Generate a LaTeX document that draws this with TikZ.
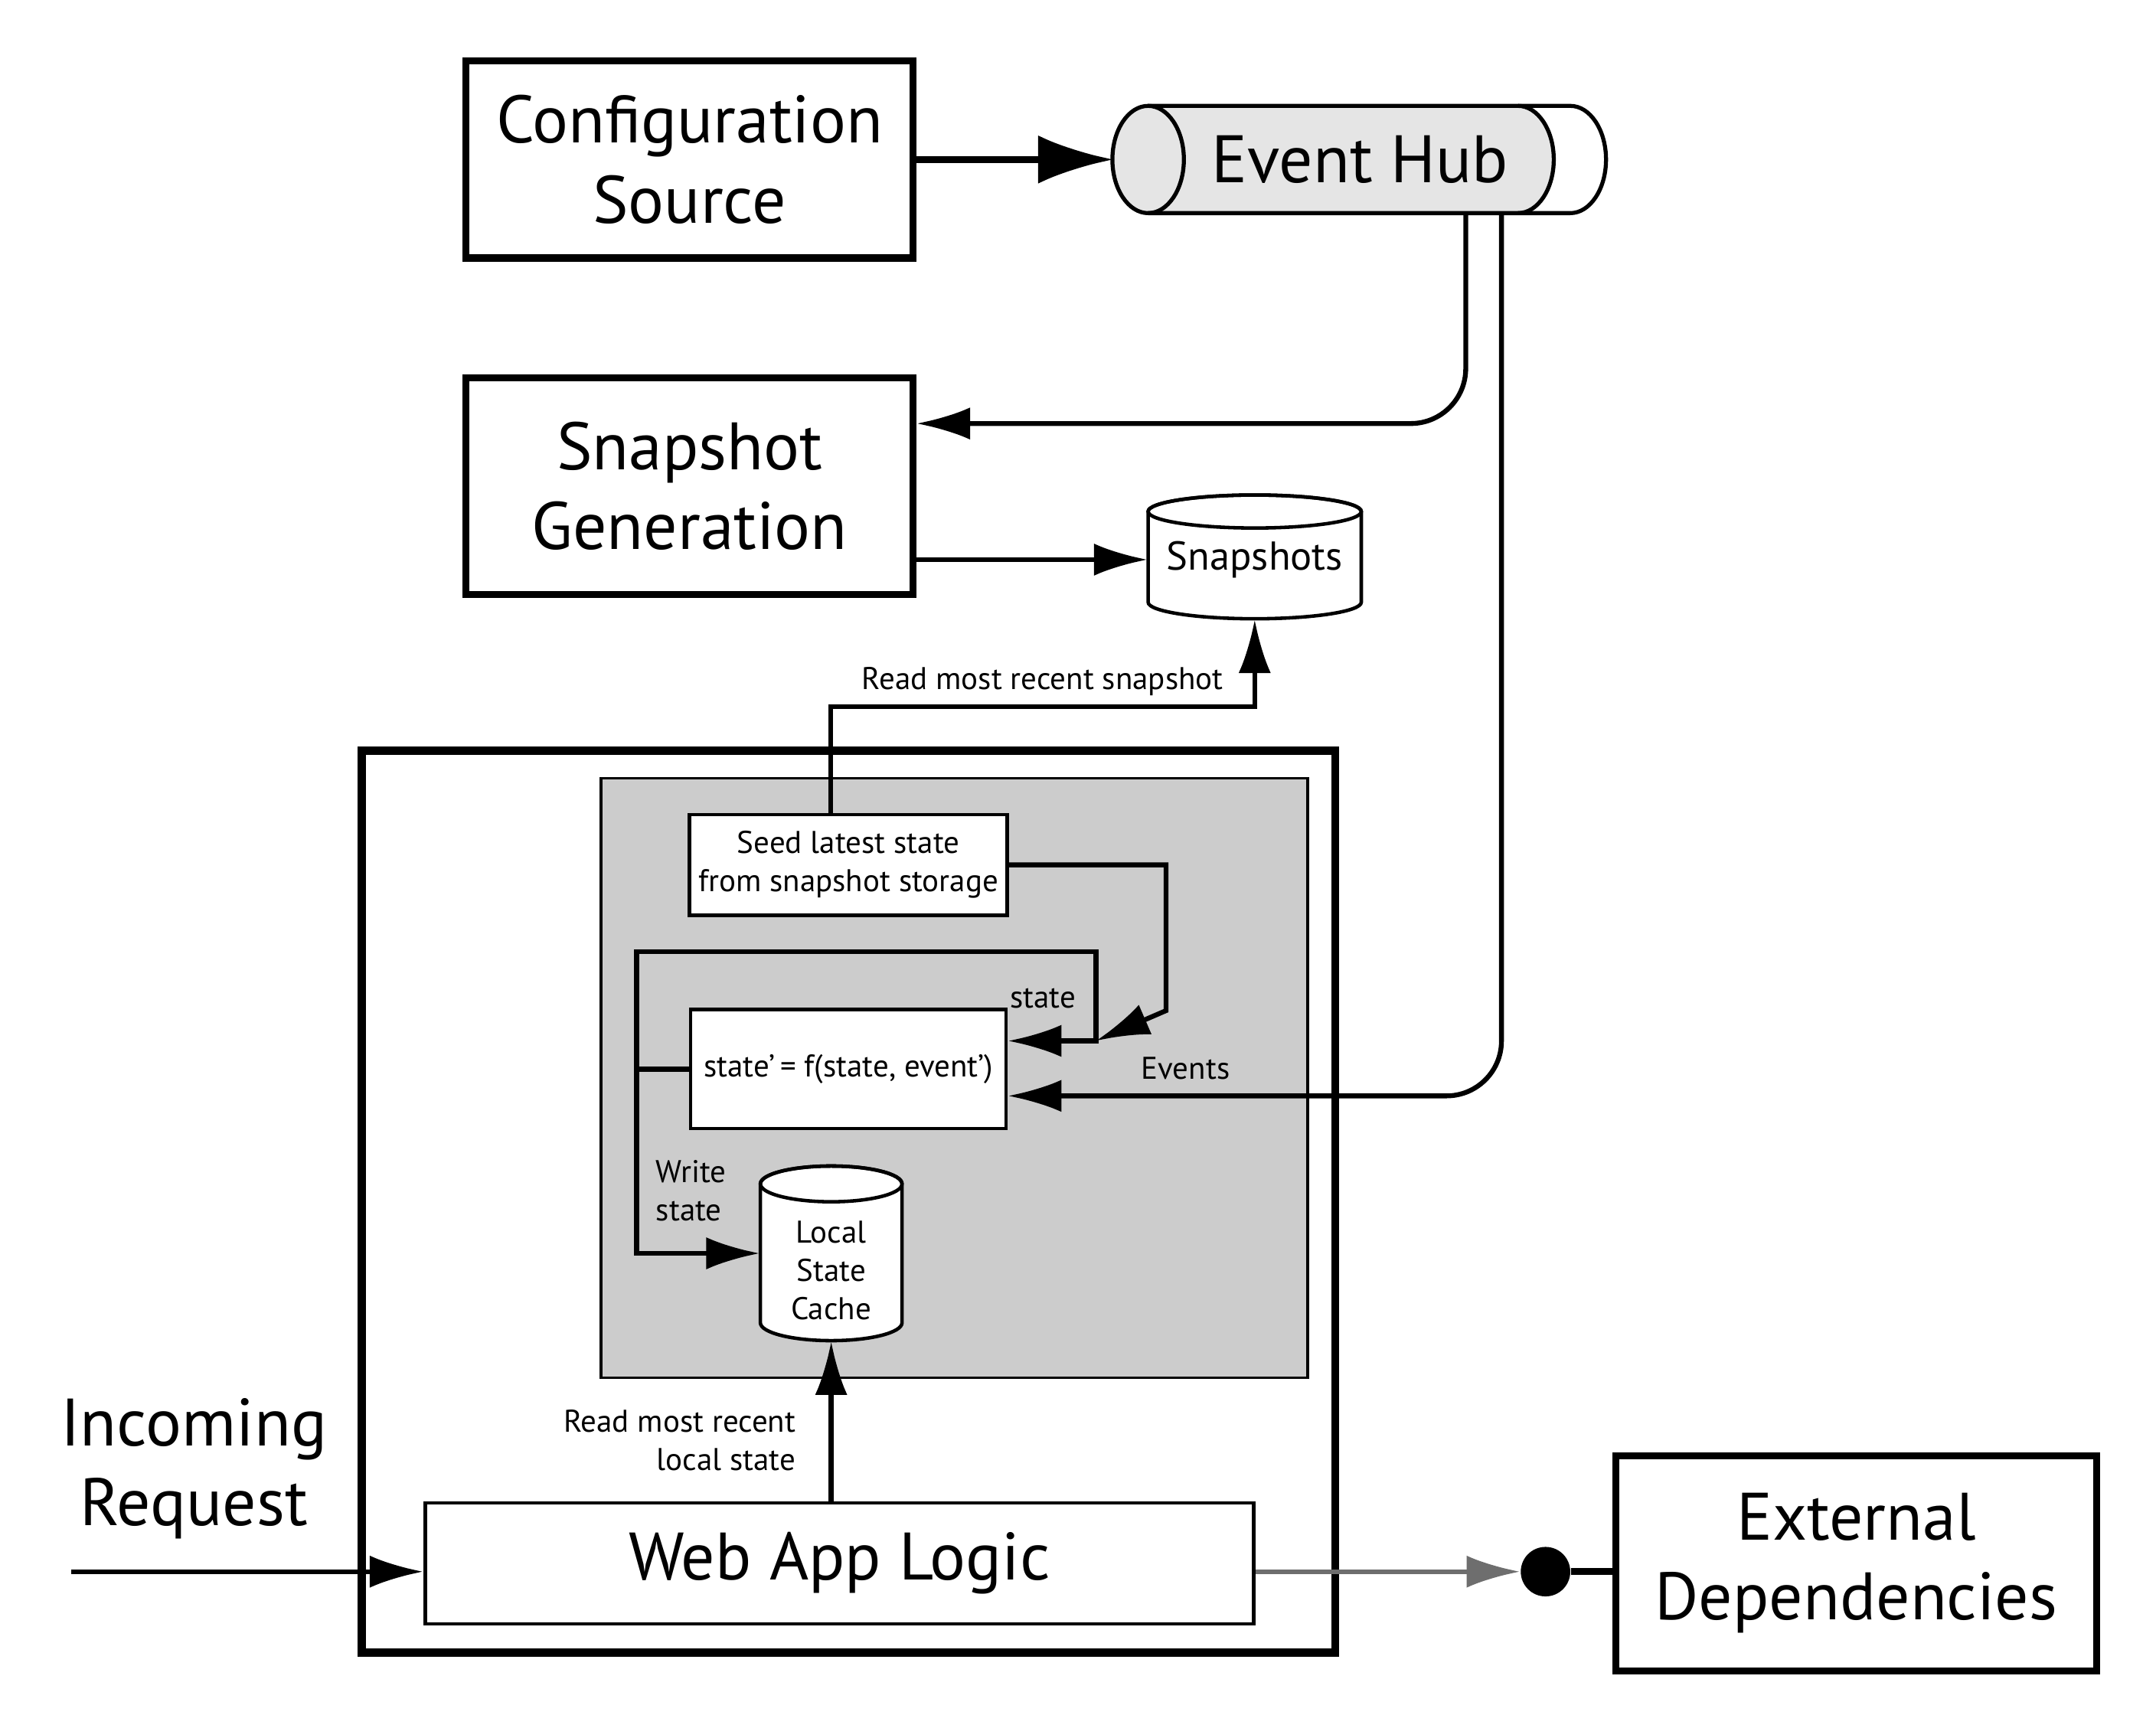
\documentclass[tikz,border=0pt]{standalone}
\usepackage{fontspec}
\setmainfont{PT Sans}
\usepackage{xcolor}
\usepackage{tikz}
\usetikzlibrary{arrows.meta,positioning}

\definecolor{hubgray}{RGB}{229,229,229}
\definecolor{boxgray}{RGB}{204,204,204}
\definecolor{linkgray}{RGB}{110,110,110}
\newcommand{\boxfont}{\fontsize{25}{29.7}\selectfont}
\newcommand{\dbfont}{\fontsize{15}{18}\selectfont}
\newcommand{\notefont}{\fontsize{11.7}{14.3}\selectfont}

\begin{document}
\begin{tikzpicture}[
  x=0.018cm, y=0.018cm,
  bigbox/.style={rectangle, draw, line width=2.6pt, align=center, font=\boxfont},
  smallbox/.style={rectangle, draw, line width=1.3pt, fill=white, align=center, font=\notefont},
  store/.style={rectangle, inner sep=0pt, align=center},
  lbl/.style={font=\notefont, align=center},
  arrow/.style={-{Latex[length=20pt,width=12pt]}, line width=1.8pt},
  bigarrow/.style={-{Latex[length=28pt,width=18pt]}, line width=2.6pt}
]

\fill[white] (0,0) rectangle (1568,-1247);

% web app container
\draw[line width=3pt] (263,-546) rectangle (971,-1202);
\draw[line width=1pt, fill=boxgray] (437,-566) rectangle (951,-1002);

% event hub tube
\fill[hubgray] (835,-77) -- (1104,-77) arc[start angle=90, end angle=-90, x radius=26, y radius=39]
  -- (835,-155) arc[start angle=270, end angle=90, x radius=26, y radius=39] -- cycle;
\draw[line width=1.5pt] (835,-77) -- (1142,-77) arc[start angle=90, end angle=-90, x radius=26, y radius=39] -- (835,-155);
\draw[line width=1.5pt] (1104,-77) arc[start angle=90, end angle=-90, x radius=26, y radius=39];
\draw[line width=1.5pt] (835,-116) ellipse[x radius=26, y radius=39];

% snapshot store
\draw[line width=1.3pt, fill=white] (835,-372) -- (835,-438) arc[start angle=180, end angle=360, x radius=77.5, y radius=12]
  -- (990,-372) arc[start angle=0, end angle=180, x radius=77.5, y radius=12] -- cycle;
\draw[line width=1.3pt] (912.5,-372) ellipse[x radius=77.5, y radius=12];

% local cache store
\draw[line width=1.3pt, fill=white] (553,-861) -- (553,-962) arc[start angle=180, end angle=360, x radius=51.5, y radius=13]
  -- (656,-861) arc[start angle=0, end angle=180, x radius=51.5, y radius=13] -- cycle;
\draw[line width=1.3pt] (604.5,-861) ellipse[x radius=51.5, y radius=13];

\node[bigbox, minimum width=5.85cm, minimum height=2.58cm] (config) at (501.5,-116) {Configuration\\Source};
\node[store, font=\boxfont, minimum width=6.444cm, minimum height=1.404cm] (hub) at (989,-116) {Event Hub};
\node[bigbox, minimum width=5.85cm, minimum height=2.84cm] (snapgen) at (501.5,-353.5) {Snapshot\\Generation};
\node[store, font=\dbfont, minimum width=2.79cm, minimum height=1.55cm] (snaps) at (912.5,-407) {Snapshots};

\node[smallbox, minimum width=4.13cm, minimum height=1.32cm] (seed) at (617,-629) {Seed latest state\\from snapshot storage};
\node[smallbox, minimum width=4.13cm, minimum height=1.56cm] (statef) at (617,-777.5) {state’\,= f(state, event’)};
\node[store, minimum width=1.854cm, minimum height=2.286cm] (cache) at (604.5,-911.5) {};
\node[lbl] (cachetext) at (604.5,-924) {Local\\State\\Cache};
\node[smallbox, font=\boxfont, minimum width=10.85cm, minimum height=1.58cm] (webapp) at (610.5,-1137) {Web App Logic};

\node[font=\boxfont, align=center] (inreq) at (141,-1068) {Incoming\\Request};
\node[bigbox, minimum width=6.3cm, minimum height=2.81cm] (extdep) at (1350,-1137) {External\\Dependencies};
\node[circle, fill=black, minimum size=0.648cm, inner sep=0pt] (dep) at (1124,-1143) {};

\coordinate (inpt) at (52,-1143);
\coordinate (merge) at (797,-757);

\draw[bigarrow] (config) -- (hub);
\draw[arrow, rounded corners=0.72cm] ([xshift=1.386cm]hub.south) |- ([yshift=0.819cm]snapgen.east);
\draw[arrow, rounded corners=0.72cm] ([xshift=1.854cm]hub.south) |- node[lbl, above=2pt, pos=0.82] {Events} ([yshift=-0.351cm]statef.east);
\draw[arrow] (snaps.west -| snapgen.east) -- (snaps.west);
\draw[arrow] ([xshift=-0.234cm]seed.north) -- ++(0,77) -| node[lbl, above, pos=0.25] {Read most recent snapshot} (snaps.south);

\draw[arrow] (seed.east) -| (848,-735) -- (merge);
\draw[arrow] (statef.west) -- ++(-38,0) |- (797,-692) -- (merge) -- node[lbl, above=8pt, pos=0.6] {state} (merge -| statef.east);
\draw[arrow] (statef.west) -- ++(-38,0) |- node[lbl, right=3pt, pos=0.33, align=left] {Write\\state} (cache.west);
\draw[arrow] (cache.south |- webapp.north) -- node[lbl, left=9pt, pos=0.38, align=right] {Read most recent\\local state} (cache.south);

\draw[arrow] (inpt) -- (inpt -| webapp.west);
\draw[arrow, linkgray] (dep -| webapp.east) -- (dep.west);
\draw[line width=2.6pt] (dep) -- (dep -| extdep.west);

\end{tikzpicture}
\end{document}
